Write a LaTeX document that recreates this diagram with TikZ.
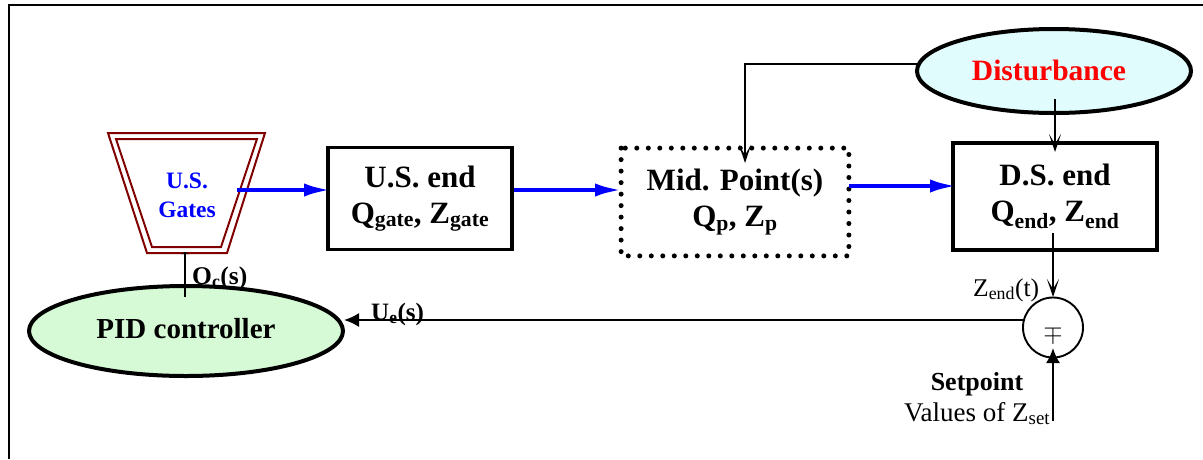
\documentclass[tikz,border=0pt]{standalone}
\usepackage{fontspec}
\setmainfont{Liberation Serif}
\usetikzlibrary{arrows.meta,shapes.geometric}
\definecolor{gatered}{RGB}{128,0,0}
\definecolor{pidgreen}{RGB}{214,250,214}
\definecolor{distcyan}{RGB}{224,252,252}
\tikzset{
  thinline/.style={line width=1.9pt,black},
  vee/.style={-{Stealth[length=18pt,width=12pt,inset=10pt]}},
  solid tip/.style={-{Latex[length=15pt,width=14pt]}},
  flow/.style={line width=4.7pt,blue,-{Latex[length=28pt,width=13pt]}},
  blockbox/.style={draw,line width=3.8pt,inner sep=0pt,align=center,font=\fontsize{31}{38}\selectfont\bfseries},
  ell/.style={ellipse,draw,line width=4pt,inner sep=0pt},
  lab/.style={inner sep=0pt}
}
\begin{document}
\begin{tikzpicture}[x=1pt,y=-1pt]
\useasboundingbox (0,0) rectangle (1203,459);
\draw[line width=2.4pt] (9,459) -- (9,5) -- (1203,5);
% gates
\draw[gatered,line width=2pt] (108,133) -- (265,133) -- (227,253) -- (147,253) -- cycle;
\draw[gatered,line width=2pt] (116,139) -- (257,139) -- (221,247) -- (152,247) -- cycle;
\node[inner sep=0pt,align=center,text=blue,font=\fontsize{23.5}{29}\selectfont\bfseries] (gates) at (187,195) {U.S.\\Gates};
% blocks
\node[blockbox,minimum width=184pt,minimum height=102pt] (us) at (420,198.5) {\raisebox{-3pt}{U.S. end}\\\raisebox{-1pt}{Q\textsubscript{gate}, Z\textsubscript{gate}}};
\node[blockbox,draw=none,minimum width=224pt,minimum height=104pt] (mid) at (735,202) {\raisebox{-3pt}{Mid. Point(s)}\\\raisebox{-1pt}{Q\textsubscript{p}, Z\textsubscript{p}}};
\draw[line width=5pt,dash pattern=on 0pt off 11.5pt,line cap=round] (mid.north west) rectangle (mid.south east);
\node[blockbox,minimum width=204pt,minimum height=107pt] (ds) at (1055,196.5) {\raisebox{-2pt}{D.S. end}\\Q\textsubscript{end}, Z\textsubscript{end}};
% ellipses
\node[ell,fill=distcyan,minimum width=274pt,minimum height=84pt,text=red,font=\fontsize{29.5}{32}\selectfont\bfseries] (dist) at (1054,71) {\hspace*{-10pt}\raisebox{2pt}{Disturbance}};
\node[ell,fill=pidgreen,minimum width=314pt,minimum height=90pt,font=\fontsize{29}{32}\selectfont\bfseries] (pid) at (186,331) {\raisebox{5pt}{PID controller}};
\node[circle,draw,line width=1.9pt,minimum size=60pt,inner sep=0pt] (sum) at (1053,327.5) {};
\node[inner sep=0pt,font=\fontsize{26}{26}\selectfont] (mp) at (1053,334) {\(\mp\)};
% flows
\coordinate (f1) at (237,190);
\draw[flow,shorten >=-6pt] (f1) -- (us.west |- f1);
\draw[flow,shorten >=-2pt] (us.east |- 0,190) -- (mid.west |- 0,190);
\draw[flow,shorten >=-7pt] (mid.east |- 0,186) -- (ds.west |- 0,186);
% thin connectors
\coordinate (dtop) at (1055,99);
\coordinate (dsout) at (1053,233);
\coordinate (midcorner) at (745,64);
\coordinate (midin) at (745,163);
\coordinate (dsin) at (1055,152);
\coordinate (sumtop) at (1053,297);
\coordinate (spb) at (1053,421);
\coordinate (sumin) at (1053,348);
\coordinate (p1) at (185,297);
\coordinate (p2) at (185,252);
\coordinate (sumw) at (1024,320);
\coordinate (pide) at (344,320);
\coordinate (distw) at (917,64);
\draw[thinline,vee] (distw) -- (midcorner) -- (midin);
\draw[thinline,vee] (dtop) -- (dsin);
\draw[thinline,vee] (dsout) -- (sumtop);
\draw[thinline,solid tip] (spb) -- (sumin);
\draw[thinline,solid tip] (sumw) -- (pide);
\draw[thinline,-{Stealth[length=3pt,width=9pt,inset=2pt]}] (p1) -- (p2);
% labels
\node[lab,font=\fontsize{25.5}{28}\selectfont\bfseries,anchor=base west] (oc) at (192,284) {O\textsubscript{c}(s)};
\node[lab,font=\fontsize{25}{28}\selectfont\bfseries,anchor=base west] (ue) at (371,320) {U\textsubscript{e}(s)};
\node[lab,font=\fontsize{25.5}{28}\selectfont,anchor=base west] (zend) at (973,296) {Z\textsubscript{end}(t)};
\node[lab,font=\fontsize{26}{28}\selectfont\bfseries,anchor=base] (sp) at (977,390) {Setpoint};
\node[lab,font=\fontsize{27}{28}\selectfont,anchor=base west] (val) at (904,421) {Values of Z\textsubscript{set}};
\end{tikzpicture}
\end{document}
